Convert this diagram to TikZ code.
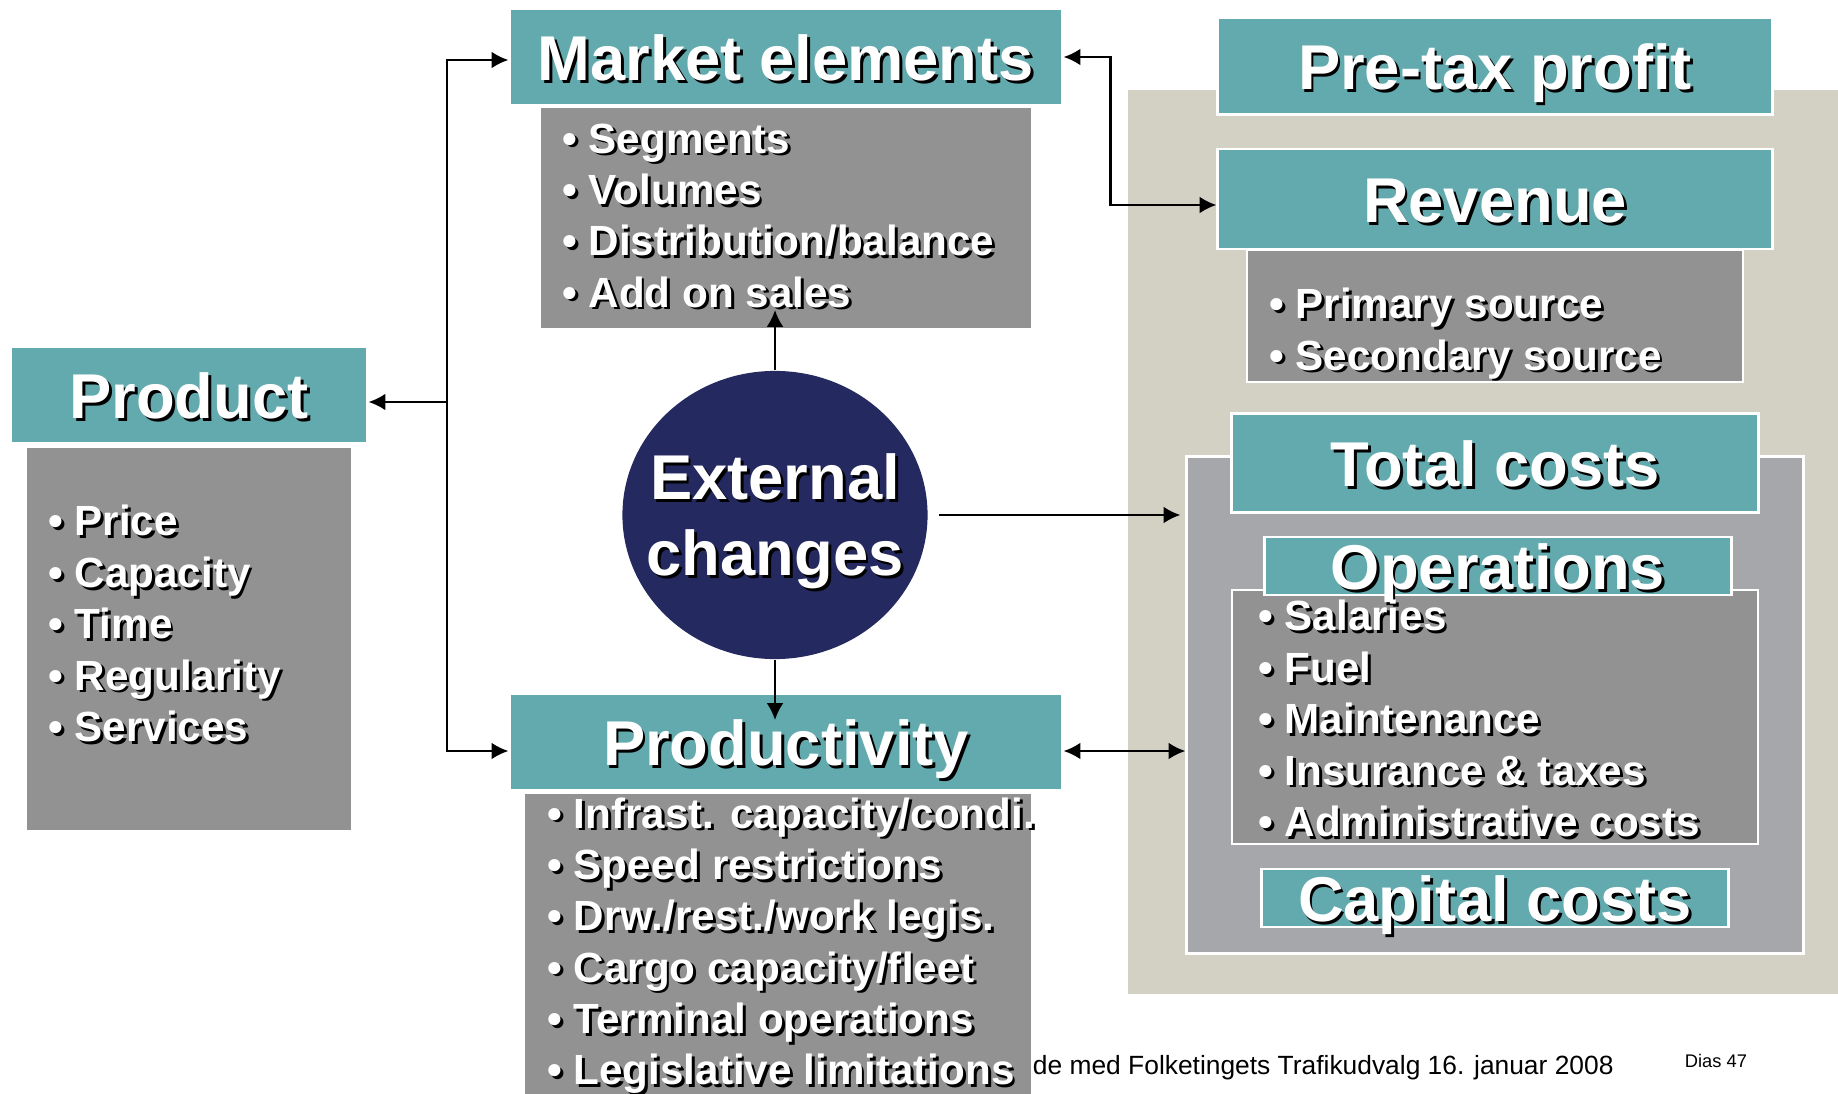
\documentclass[tikz,border=0pt]{standalone}
\usepackage{fontspec}
\setmainfont{Liberation Sans}
\usetikzlibrary{arrows.meta, shapes.geometric, positioning}

\definecolor{boxteal}{RGB}{99,170,175}
\definecolor{listgray}{RGB}{146,146,146}
\definecolor{panelgray}{RGB}{166,167,171}
\definecolor{beige}{RGB}{211,209,195}
\definecolor{navy}{RGB}{36,42,96}

% white text with a black drop shadow
\newcommand{\shadowed}[1]{\makebox[0pt][l]{\raisebox{-0.8pt}{\hspace{0.8pt}\textcolor{black}{#1}}}#1}

\begin{document}
\begin{tikzpicture}[x=0.01cm, y=-0.01cm, >={Latex[length=4.8pt,width=4.8pt]}, line width=0.7pt,
	head/.style={fill=boxteal, draw=white, line width=0.8pt, text=white, inner sep=0pt,
		font=\fontsize{18}{20}\selectfont\bfseries, text height=15pt, text depth=1.5pt},
	list/.style={fill=listgray, draw=white, line width=0.6pt},
	items/.style={text=white, font=\fontsize{12}{14.6}\selectfont\bfseries, align=left, anchor=west, inner sep=0pt}]
	%\draw [thin, help lines] (0,0) grid[step=100] (1838,1094);
	\useasboundingbox (0,0) rectangle (1838,1094);
	\fill[beige] (1128,90) rectangle (1838,994);
	\node[font=\fontsize{7.5}{8}\selectfont, anchor=base west] (footer) at (1020,1074) {de med Folketingets Trafikudvalg 16. januar 2008};
	\node[font=\fontsize{5.2}{6}\selectfont, anchor=base west] (slideno) at (1672,1067) {Dias 47};

	% left column
	\node[head, minimum width=3.56cm, minimum height=0.96cm] (prod) at (189,395) {\shadowed{Product}};
	\node[list, minimum width=3.26cm, minimum height=3.84cm] (prodlist) at (189,639) {};
	\node[items] (proditems) at (47,625) {\shadowed{• Price}\\ \shadowed{• Capacity}\\ \shadowed{• Time}\\ \shadowed{• Regularity}\\ \shadowed{• Services}};

	% middle column
	\node[head, minimum width=5.52cm, minimum height=0.96cm] (mkt) at (786,57) {\shadowed{Market elements}};
	\node[list, minimum width=4.92cm, minimum height=2.21cm] (mktlist) at (786,218) {};
	\node[items] (mktitems) at (561,217) {\shadowed{• Segments}\\ \shadowed{• Volumes}\\ \shadowed{• Distribution/balance}\\ \shadowed{• Add on sales}};
	\node[ellipse, fill=navy, minimum width=3.05cm, minimum height=2.88cm, inner sep=0pt] (ext) at (775,515) {};
	\node[text=white, align=center, font=\fontsize{18}{21.6}\selectfont\bfseries] (exttext) at (775,523) {\shadowed{External}\\ \shadowed{changes}};
	\node[head, minimum width=5.52cm, minimum height=0.96cm] (prodty) at (786,742) {\shadowed{Productivity}};
	\node[list, minimum width=5.07cm, minimum height=3.04cm] (prodtylist) at (778,945) {};
	\node[items] (prodtyitems) at (546,947) {\shadowed{• Infrast. capacity/condi.}\\ \shadowed{• Speed restrictions}\\ \shadowed{• Drw./rest./work legis.}\\ \shadowed{• Cargo capacity/fleet}\\ \shadowed{• Terminal operations}\\ \shadowed{• Legislative limitations}};

	% right column
	\node[head, minimum width=5.54cm, minimum height=0.97cm] (pretax) at (1495,66) {\shadowed{Pre-tax profit}};
	\node[head, minimum width=5.54cm, minimum height=1.0cm] (rev) at (1495,199) {\shadowed{Revenue}};
	\node[list, minimum width=4.95cm, minimum height=1.32cm] (revlist) at (1495,316) {};
	\node[items] (revitems) at (1268,335) {\shadowed{• Primary source}\\ \shadowed{• Secondary source}};
	\node[fill=panelgray, draw=white, line width=0.8pt, minimum width=6.16cm, minimum height=4.96cm] (panel) at (1495,705) {};
	\node[head, minimum width=5.26cm, minimum height=0.99cm] (tot) at (1495,463) {\shadowed{Total costs}};
	\node[list, minimum width=5.26cm, minimum height=2.54cm] (opslist) at (1495,717) {};
	\node[head, minimum width=4.66cm, minimum height=0.56cm] (ops) at (1498,566) {\shadowed{Operations}};
	\node[items] (opsitems) at (1257,720) {\shadowed{• Salaries}\\ \shadowed{• Fuel}\\ \shadowed{• Maintenance}\\ \shadowed{• Insurance \& taxes}\\ \shadowed{• Administrative costs}};
	\node[head, minimum width=4.66cm, minimum height=0.56cm] (cap) at (1495,898) {\shadowed{Capital costs}};

	% arrows
	\coordinate (fork) at (447,402);
	\coordinate (mkttip) at (778,310);
	\coordinate (prodtytip) at (778,720);
	\draw[->] (fork) |- ([yshift=-0.03cm]mkt.west);
	\draw[->] (fork) |- ([yshift=-0.09cm]prodty.west);
	\draw[->] (fork) -- (prod.east |- fork);
	\draw[<->] (mkt.east) -- ++(47,0) |- ([yshift=-0.06cm]rev.west);
	\draw[->] (ext.north) -- (ext.north |- mkttip);
	\draw[->] (ext.south) -- (ext.south |- prodtytip);
	\draw[->, shorten <=0.1cm, shorten >=0.05cm] (ext.east) -- (panel.west |- ext.east);
	\draw[<->] ([yshift=-0.09cm]prodty.east) -- ([yshift=-0.09cm]prodty.east -| panel.west);
\end{tikzpicture}
\end{document}
